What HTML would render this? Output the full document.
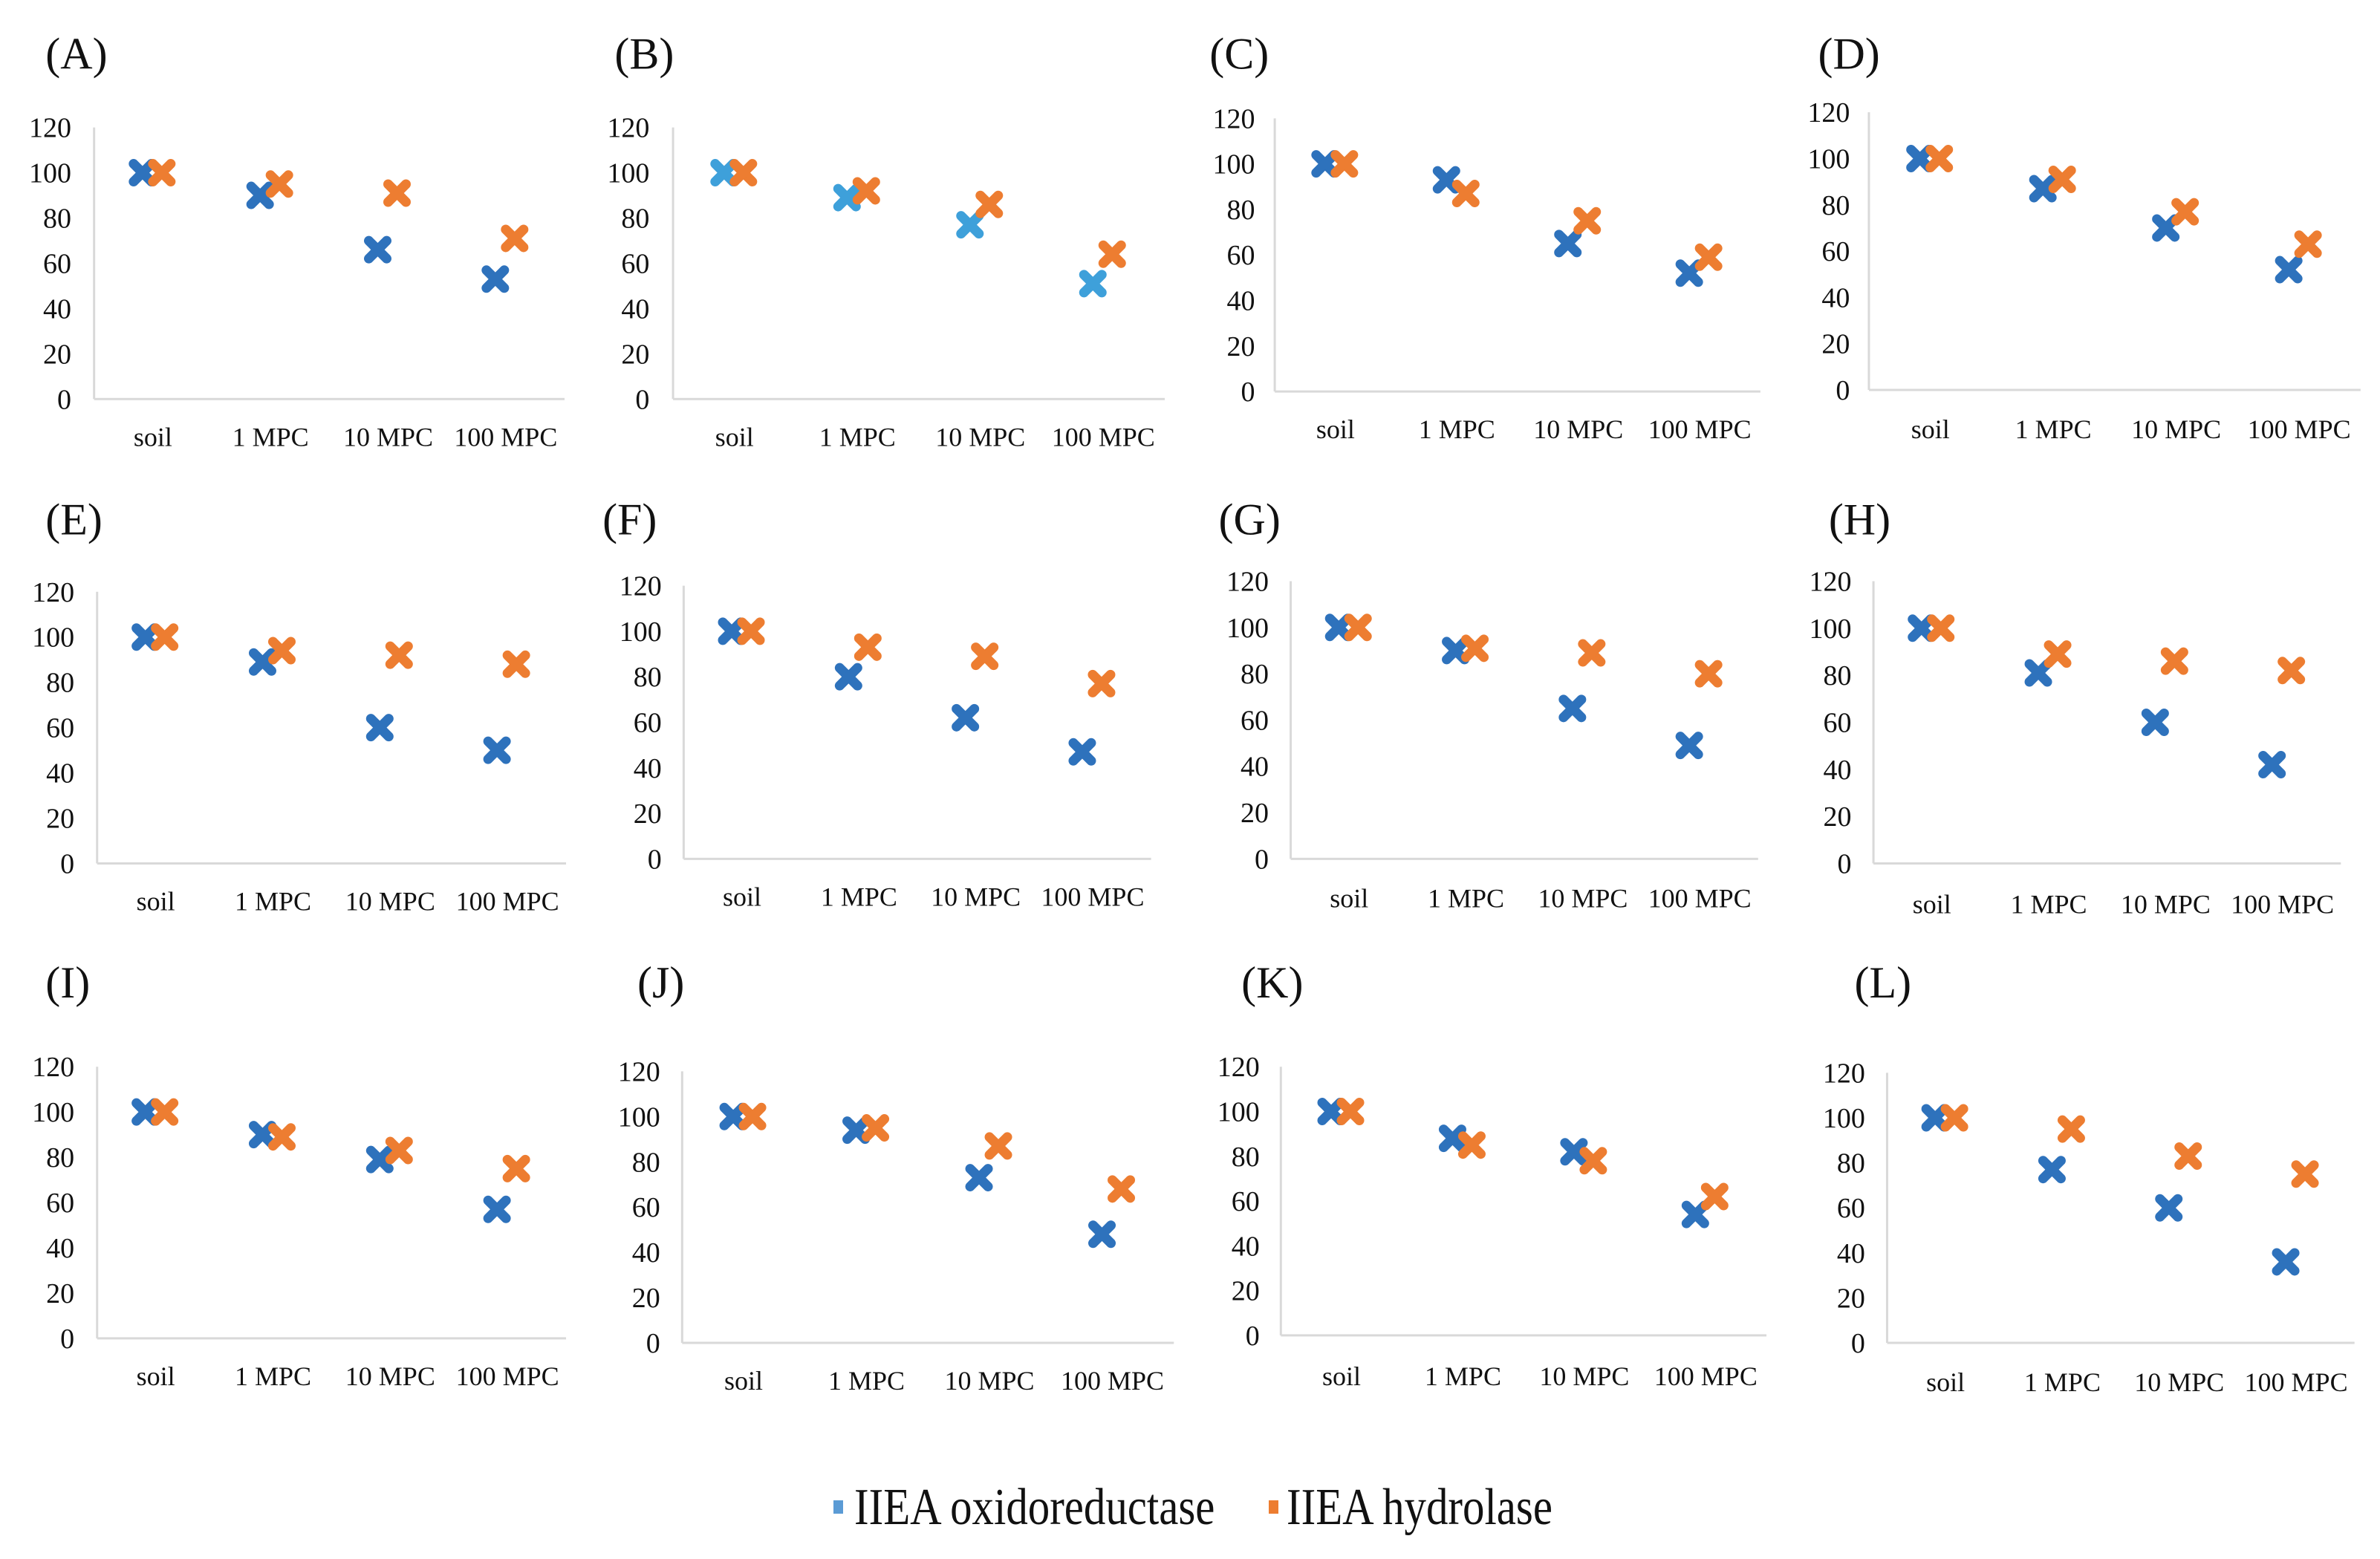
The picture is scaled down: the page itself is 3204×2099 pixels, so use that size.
<!DOCTYPE html>
<html><head><meta charset="utf-8"><style>
html,body{margin:0;padding:0;background:#fff;}
svg{display:block;}
text{font-family:"Liberation Serif",serif;fill:#111;}
</style></head>
<body>
<svg id="chart" width="3204" height="2099" viewBox="0 0 3204 2099" xmlns="http://www.w3.org/2000/svg">
<g id="legend">
  <rect x="1122" y="2020" width="13" height="18" fill="#5B9BD5"/>
  <text x="1150" y="2052" font-size="64" font-family="Liberation Serif, serif" transform="translate(1150,2052) scale(0.92,1.1) translate(-1150,-2052)">IIEA oxidoreductase</text>
  <rect x="1708" y="2020" width="13" height="18" fill="#ED7D31"/>
  <text x="1732" y="2052" font-size="64" font-family="Liberation Serif, serif" transform="translate(1732,2052) scale(0.92,1.1) translate(-1732,-2052)">IIEA hydrolase</text>
</g>
</svg>
<script>
const categories = ["soil","1 MPC","10 MPC","100 MPC"];
const yTicks = [0,20,40,60,80,100,120];
const panelNames = ["A","B","C","D","E","F","G","H","I","J","K","L"];
const oxA=[100,90,66,53], hyA=[100,95,91,71];
const oxB=[100,89,77,51], hyB=[100,92,86,64];
const oxC=[100,93,65,52], hyC=[100,87,75,59];
const oxD=[100,87,70,52], hyD=[100,91,77,63];
const oxE=[100,89,60,50], hyE=[100,94,92,88];
const oxF=[100,80,62,47], hyF=[100,93,89,77];
const oxG=[100,90,65,49], hyG=[100,91,89,80];
const oxH=[100,81,60,42], hyH=[100,89,86,82];
const oxI=[100,90,79,57], hyI=[100,89,83,75];
const oxJ=[100,94,73,48], hyJ=[100,95,87,68];
const oxK=[100,88,82,54], hyK=[100,85,78,62];
const oxL=[100,77,60,36], hyL=[100,95,83,75];
const oxSeries=[oxA,oxB,oxC,oxD,oxE,oxF,oxG,oxH,oxI,oxJ,oxK,oxL];
const hySeries=[hyA,hyB,hyC,hyD,hyE,hyF,hyG,hyH,hyI,hyJ,hyK,hyL];

const S=2.043;
const layout=[
 [30,35,62,372,84,263,47,288],[405,35,443.5,767.5,84,263,428,288],
 [797,35,840,1160,78,258,827,283],[1198,35,1231.5,1555.5,74,257,1219,283],
 [30,342,64,373,390,569,49,594],[397,342,450.5,758.5,386,566,436,591],
 [803,342,850.5,1158.5,383,566,836,592],[1205,342,1234.5,1542.5,383,569,1220,596],
 [30,647,64,373,703,882,49,907],[420,647,449.5,773.5,706,885,435,910],
 [818,647,844,1164,703,880,830,907],[1222,647,1243.5,1551.5,707,885,1229,911]
];
const NS="http://www.w3.org/2000/svg";
const svg=document.getElementById("chart");
function mk(tag,attrs,parent){const e=document.createElementNS(NS,tag);for(const k in attrs)e.setAttribute(k,attrs[k]);parent.appendChild(e);return e;}
function drawX(g,cx,cy,color,name){
  const m=mk("g",{},g);
  
  
  const a=12;
  mk("line",{x1:cx-a,y1:cy-a,x2:cx+a,y2:cy+a,stroke:color,"stroke-width":13,"stroke-linecap":"round"},m);
  mk("line",{x1:cx-a,y1:cy+a,x2:cx+a,y2:cy-a,stroke:color,"stroke-width":13,"stroke-linecap":"round"},m);
}
panelNames.forEach((p,i)=>{
  const L=layout[i].map(v=>v*S);
  const [lx,ly,ax0,ax1,yTop,yBot,tr,cy]=L;
  const g=mk("g",{},svg);
  
  
  const yScale=v=>yBot-(v/120)*(yBot-yTop);
  const band=(ax1-ax0)/categories.length;
  const xScale=k=>ax0+band*(k+0.5);
  const t=mk("text",{x:lx,y:ly+21,"font-size":60},g);
  t.textContent="("+p+")";
  
  
  const ya=mk("line",{x1:ax0,y1:yTop,x2:ax0,y2:yBot,stroke:"#d9d9d9","stroke-width":3},g);
  
  
  const xa=mk("line",{x1:ax0,y1:yBot,x2:ax1,y2:yBot,stroke:"#d9d9d9","stroke-width":3},g);
  
  
  yTicks.forEach(v=>{
    const tt=mk("text",{x:tr,y:yScale(v)+13,"font-size":38,"text-anchor":"end"},g);
    tt.textContent=v;
    
    
  });
  categories.forEach((c,k)=>{
    const ct=mk("text",{x:xScale(k),y:cy+12,"font-size":36,"text-anchor":"middle"},g);
    ct.textContent=c;
    
    
  });
  const blue = p==="B" ? "#3EA0DA" : "#2E72BC";
  oxSeries[i].forEach((v,k)=>drawX(g,xScale(k)-14,yScale(v),blue,"oxidoreductase-point"));
  hySeries[i].forEach((v,k)=>drawX(g,xScale(k)+12,yScale(v),"#ED7D31","hydrolase-point"));
});
</script>
</body></html>
